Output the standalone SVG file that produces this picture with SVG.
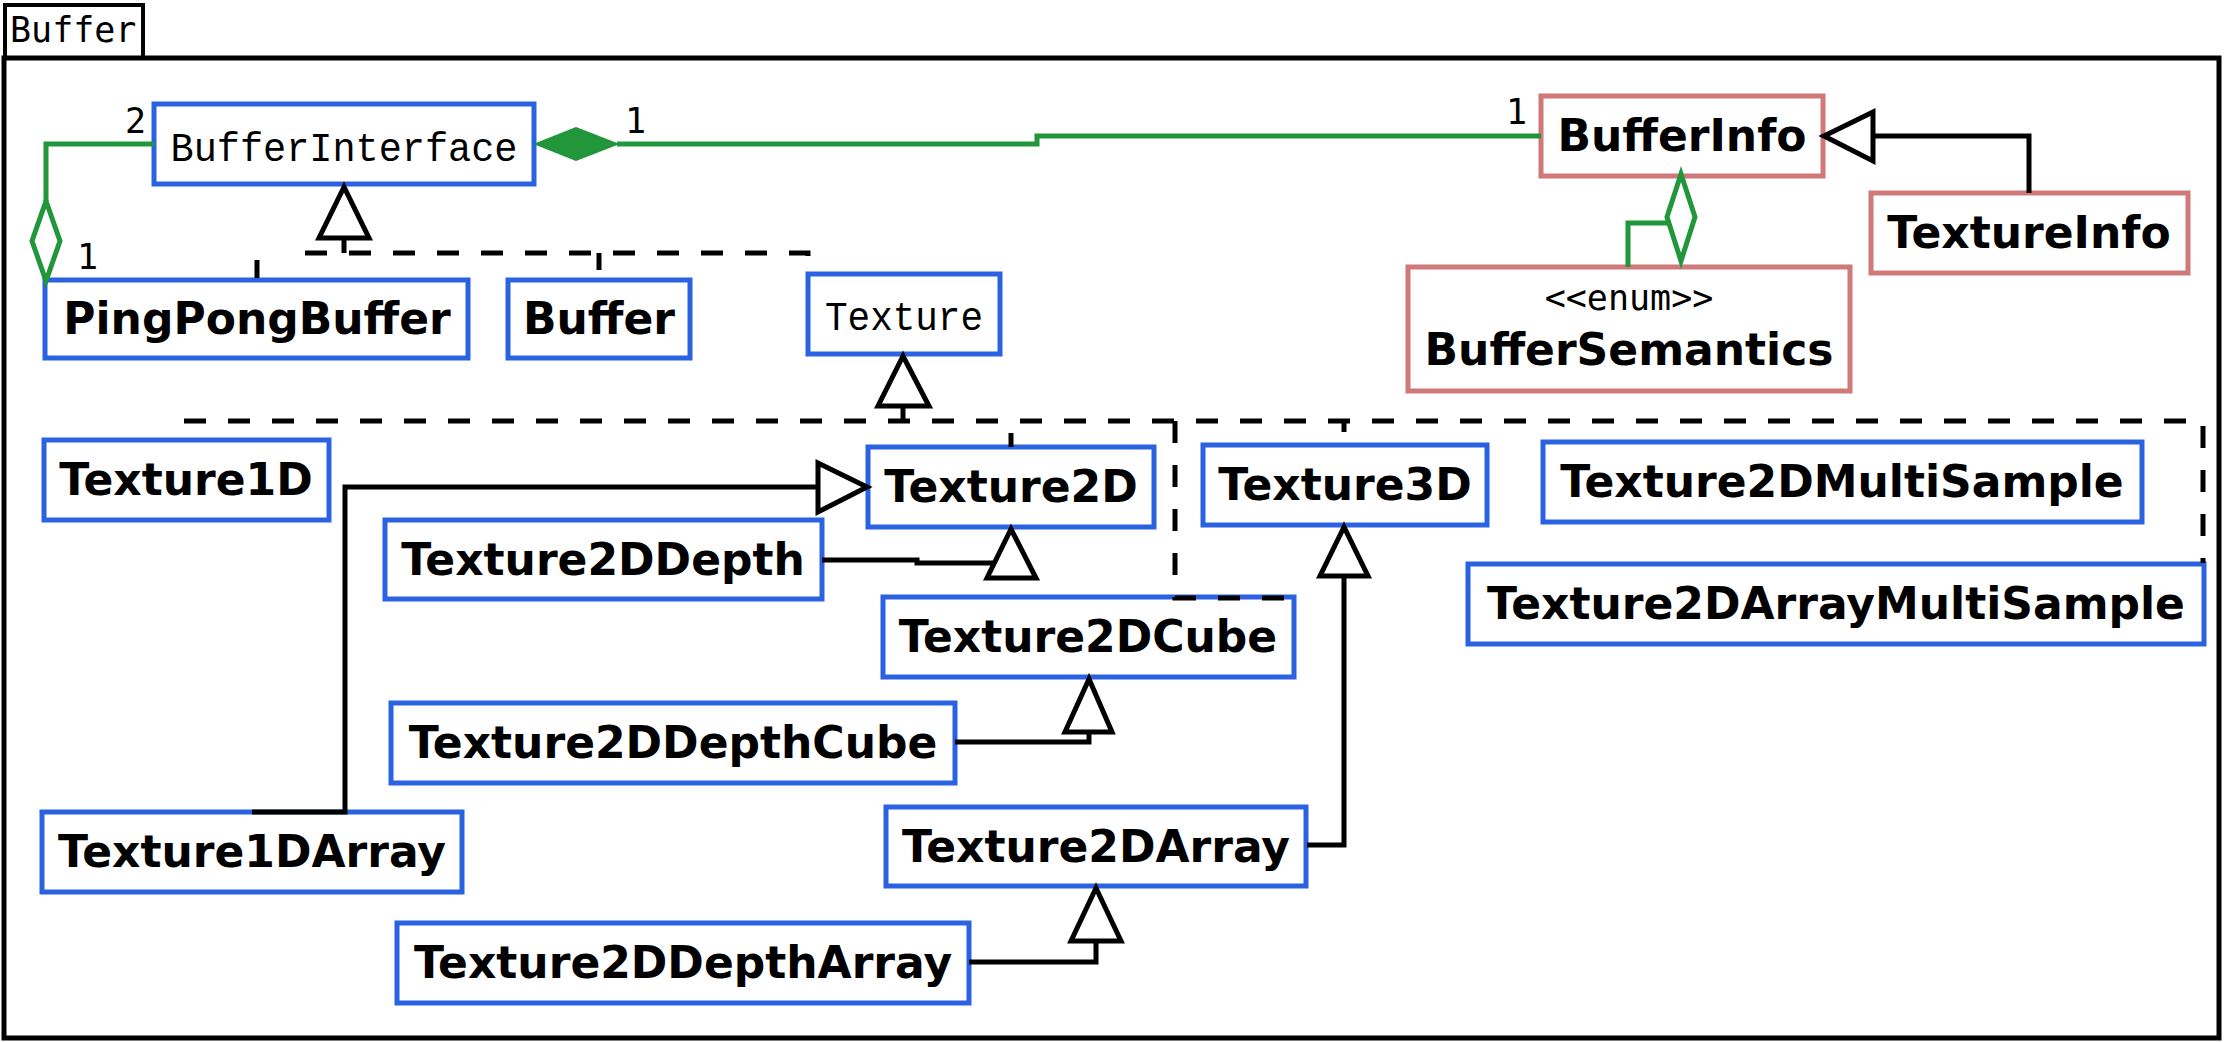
<svg xmlns="http://www.w3.org/2000/svg" width="2225" height="1042" viewBox="0 0 2225 1042">
<defs>
<style>
.frame{fill:none;stroke:#000;stroke-width:5}
.cls{fill:#fff;stroke:#2a62e2;stroke-width:5}
.info{fill:#fff;stroke:#cf7979;stroke-width:5}
.bold{font-family:"DejaVu Sans",sans-serif;font-weight:bold;font-size:44px;fill:#000;text-anchor:middle}
.mono{font-family:"Liberation Mono","Courier New",monospace;font-size:40px;fill:#000;text-anchor:middle}
.lab{font-family:"DejaVu Sans Mono",monospace;font-size:35px;fill:#000}
.ln{fill:none;stroke:#000;stroke-width:5}
.dash{fill:none;stroke:#000;stroke-width:5;stroke-dasharray:22 22}
.tri{fill:#fff;stroke:#000;stroke-width:5}
.g{fill:none;stroke:#21963b;stroke-width:5}
.gd{fill:#fff;stroke:#21963b;stroke-width:5}
.gf{fill:#21963b;stroke:#21963b;stroke-width:2}
</style>
</defs>
<rect x="0" y="0" width="2225" height="1042" fill="#fff"/>
<g id="package">
<rect class="frame" x="4" y="58" width="2215" height="980"/>
<rect class="frame" x="5" y="5" width="138" height="53" style="stroke-width:4"/>
<text class="lab" x="10" y="42">Buffer</text>
</g>
<g id="BufferInterface"><rect class="cls" x="154" y="104" width="380" height="80"/><text class="mono" x="344" y="161" textLength="347" lengthAdjust="spacingAndGlyphs">BufferInterface</text></g>
<g id="PingPongBuffer"><rect class="cls" x="45" y="280" width="423" height="78"/><text class="bold" x="257" y="334">PingPongBuffer</text></g>
<g id="Buffer"><rect class="cls" x="508" y="280" width="182" height="78"/><text class="bold" x="599" y="334">Buffer</text></g>
<g id="Texture"><rect class="cls" x="808" y="274" width="192" height="80"/><text class="mono" x="904" y="330" textLength="158" lengthAdjust="spacingAndGlyphs">Texture</text></g>
<g id="BufferInfo"><rect class="info" x="1541" y="96" width="282" height="80"/><text class="bold" x="1682" y="151">BufferInfo</text></g>
<g id="TextureInfo"><rect class="info" x="1871" y="193" width="317" height="80"/><text class="bold" x="2029" y="248">TextureInfo</text></g>
<g id="BufferSemantics"><rect class="info" x="1408" y="267" width="442" height="124"/><text class="lab" x="1629" y="310" text-anchor="middle">&lt;&lt;enum&gt;&gt;</text><text class="bold" x="1629" y="365">BufferSemantics</text></g>
<g id="Texture1D"><rect class="cls" x="44" y="440" width="285" height="80"/><text class="bold" x="186" y="495">Texture1D</text></g>
<g id="Texture2D"><rect class="cls" x="868" y="447" width="286" height="80"/><text class="bold" x="1011" y="502">Texture2D</text></g>
<g id="Texture3D"><rect class="cls" x="1203" y="445" width="284" height="80"/><text class="bold" x="1345" y="500">Texture3D</text></g>
<g id="Texture2DMultiSample"><rect class="cls" x="1543" y="442" width="599" height="80"/><text class="bold" x="1842" y="497">Texture2DMultiSample</text></g>
<g id="Texture2DArrayMultiSample"><rect class="cls" x="1468" y="564" width="736" height="80"/><text class="bold" x="1836" y="619">Texture2DArrayMultiSample</text></g>
<g id="Texture2DDepth"><rect class="cls" x="385" y="520" width="437" height="79"/><text class="bold" x="603" y="575">Texture2DDepth</text></g>
<g id="Texture2DCube"><rect class="cls" x="883" y="597" width="411" height="80"/><text class="bold" x="1088" y="652">Texture2DCube</text></g>
<g id="Texture2DDepthCube"><rect class="cls" x="391" y="703" width="564" height="80"/><text class="bold" x="673" y="758">Texture2DDepthCube</text></g>
<g id="Texture1DArray"><rect class="cls" x="42" y="812" width="420" height="80"/><text class="bold" x="252" y="867">Texture1DArray</text></g>
<g id="Texture2DArray"><rect class="cls" x="886" y="807" width="420" height="79"/><text class="bold" x="1096" y="862">Texture2DArray</text></g>
<g id="Texture2DDepthArray"><rect class="cls" x="397" y="923" width="572" height="80"/><text class="bold" x="683" y="978">Texture2DDepthArray</text></g>
<g id="connectors">
<path class="g" d="M154,144 H46 V201"/>
<polygon class="gd" points="46,201 60,241 46,281 32,241"/>
<text class="lab" x="125" y="133">2</text>
<text class="lab" x="77" y="269">1</text>
<path class="g" d="M617,144 H1037 V136 H1541"/>
<polygon class="gf" points="536,144 576,128 617,144 576,160"/>
<text class="lab" x="625" y="133">1</text>
<text class="lab" x="1506" y="124">1</text>
<path class="g" d="M1628,267 V223 H1668"/>
<polygon class="gd" points="1681,174 1695,217 1681,261 1667,217"/>
<path class="ln" d="M2029,193 V136 H1873"/>
<polygon class="tri" points="1824,136 1873,112 1873,161"/>
<path class="dash" d="M305,253 H808 V274"/>
<path class="ln" d="M257,260 V278"/>
<path class="ln" d="M599,253 V270"/>
<path class="ln" d="M344,238 V253"/>
<polygon class="tri" points="344,187 319,238 369,238"/>
<path class="dash" d="M184,421 H2203 V563"/>
<path class="ln" d="M903,406 V421"/>
<path class="ln" d="M1011,433 V447"/>
<path class="ln" d="M1344,421 V432"/>
<path class="dash" d="M1175,421 V598 H1292"/>
<polygon class="tri" points="903,356 878,406 929,406"/>
<path class="ln" d="M252,812 H345 V487 H818"/>
<polygon class="tri" points="867,487 818,463 818,512"/>
<path class="ln" d="M822,560 H917 V563 H996"/>
<polygon class="tri" points="1011,529 987,578 1036,578"/>
<path class="ln" d="M955,742 H1089 V732"/>
<polygon class="tri" points="1089,679 1065,732 1112,732"/>
<path class="ln" d="M1307,845 H1344 V576"/>
<polygon class="tri" points="1344,527 1320,576 1368,576"/>
<path class="ln" d="M969,962 H1096 V941"/>
<polygon class="tri" points="1096,888 1071,941 1121,941"/>
</g>
</svg>
